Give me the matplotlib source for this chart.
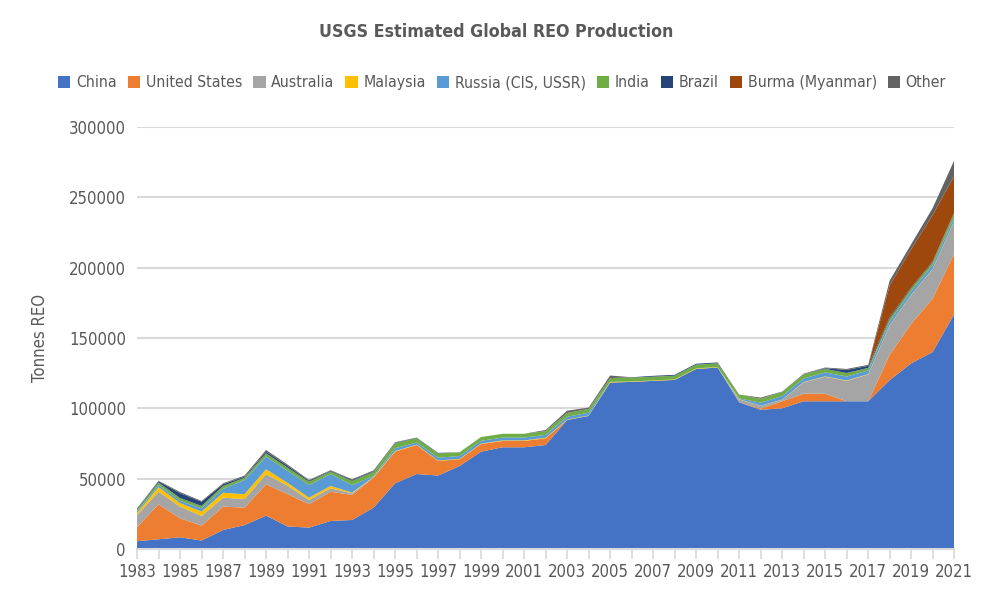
import matplotlib
matplotlib.use('Agg')
import matplotlib.pyplot as plt
import numpy as np

years = list(range(1983, 2022))

china = [5500, 6900, 8300, 6000, 13500, 17000, 23700, 16000, 15200, 19900,
         20600, 29400, 46700, 53300, 52200, 59000, 69200, 72300, 72300, 73900,
         91700, 94600, 118300, 118800, 119500, 120200, 128000, 129000, 104300, 99000,
         100000, 105000, 105000, 105000, 105000, 120000, 132000, 140000, 167000]
united_states = [10000, 24900, 13500, 10600, 16600, 12400, 22300, 23000, 16600, 20800,
                 17800, 21300, 22500, 20600, 10400, 4800, 5400, 4500, 4500, 4800,
                 0, 0, 0, 0, 0, 0, 0, 0, 0, 800,
                 5000, 5400, 5400, 0, 0, 18000, 28000, 38000, 43000]
australia = [8600, 8900, 8300, 6900, 6400, 6100, 7100, 6000, 3000, 2400,
             1200, 300, 0, 0, 0, 0, 0, 0, 0, 0,
             0, 0, 0, 0, 0, 0, 0, 0, 2000, 2000,
             1000, 8000, 12000, 14500, 19000, 21000, 20500, 21000, 23000]
malaysia = [1500, 3300, 2500, 3100, 3500, 3400, 3600, 2000, 1700, 1700,
            500, 300, 400, 300, 300, 300, 300, 400, 400, 400,
            300, 300, 500, 300, 300, 300, 400, 300, 300, 100,
            200, 300, 300, 300, 300, 200, 200, 200, 200]
russia = [1000, 1500, 1600, 2300, 2700, 10200, 9000, 8500, 9000, 8500,
          5400, 500, 2000, 1500, 2000, 2000, 2000, 2000, 2000, 2000,
          2000, 2000, 0, 0, 0, 0, 0, 0, 500, 2100,
          2500, 2500, 2800, 2800, 2600, 2600, 2600, 2600, 2600]
india = [1300, 1800, 2000, 1700, 2100, 1600, 2300, 2300, 2400, 1700,
         2900, 3000, 3600, 3100, 3000, 2700, 2700, 2700, 2700, 2700,
         2700, 2700, 2700, 2700, 2700, 2700, 2700, 2700, 2700, 2800,
         2900, 2900, 2500, 2500, 1800, 1800, 1800, 2000, 2900]
brazil = [500, 800, 3500, 3000, 1200, 700, 1200, 1300, 700, 500,
          600, 500, 300, 300, 400, 0, 0, 0, 0, 0,
          0, 0, 0, 300, 600, 600, 600, 600, 0, 0,
          0, 0, 500, 2200, 1500, 1100, 700, 600, 500]
burma = [0] * 35 + [22600, 27300, 33000, 26000]
other = [500, 400, 800, 500, 700, 800, 1200, 900, 500, 500,
         600, 600, 400, 100, 0, 0, 0, 0, 0, 800,
         1600, 900, 1800, 0, 0, 0, 0, 0, 0, 800,
         300, 500, 500, 700, 700, 3500, 3500, 5000, 11000]

labels = ['China', 'United States', 'Australia', 'Malaysia', 'Russia (CIS, USSR)',
          'India', 'Brazil', 'Burma (Myanmar)', 'Other']
colors = ['#4472C4', '#ED7D31', '#A5A5A5', '#FFC000', '#5B9BD5',
          '#70AD47', '#264478', '#9E480E', '#636363']

plt.rcParams['font.family'] = ['DejaVu Sans']
plt.rcParams['font.stretch'] = 'condensed'
text_color = '#595959'

fig = plt.figure(figsize=(9.96, 6.05), dpi=100)
ax = fig.add_axes([0.1376, 0.0926, 0.8204, 0.6975])

series = [china, united_states, australia, malaysia, russia, india, brazil, burma, other]
ax.stackplot(years, *series, labels=labels, colors=colors, linewidth=0)

ax.set_xlim(1983, 2021)
ax.set_ylim(0, 300000)
ax.set_yticks(range(0, 300001, 50000))
ax.set_xticks(years, minor=True)
ax.set_xticks(years[::2])
ax.tick_params(axis='y', length=0, labelsize=12, colors=text_color, pad=8)
ax.tick_params(axis='x', which='both', length=7, color='#D9D9D9', width=1.2,
               labelsize=12, labelcolor=text_color, pad=3)
ax.grid(axis='y', color='#D9D9D9', linewidth=1.5)
ax.set_axisbelow(True)
for side in ['top', 'right', 'left']:
    ax.spines[side].set_visible(False)
ax.spines['bottom'].set_color('#D9D9D9')
ax.spines['bottom'].set_linewidth(1.5)
ax.spines['bottom'].set_zorder(5)

ax.set_ylabel('Tonnes REO', fontsize=12, color=text_color, labelpad=14)
fig.text(0.4985, 0.947, 'USGS Estimated Global REO Production', ha='center', va='center',
         fontsize=12.8, fontweight='bold', color=text_color)
fig.legend(*ax.get_legend_handles_labels(), loc='center', bbox_to_anchor=(0.504, 0.863),
           ncol=9, frameon=False, fontsize=11.3, handlelength=0.8, handleheight=0.8,
           handletextpad=0.35, columnspacing=0.7, labelcolor=text_color)

fig.savefig('out.png', dpi=100)
plt.close(fig)
